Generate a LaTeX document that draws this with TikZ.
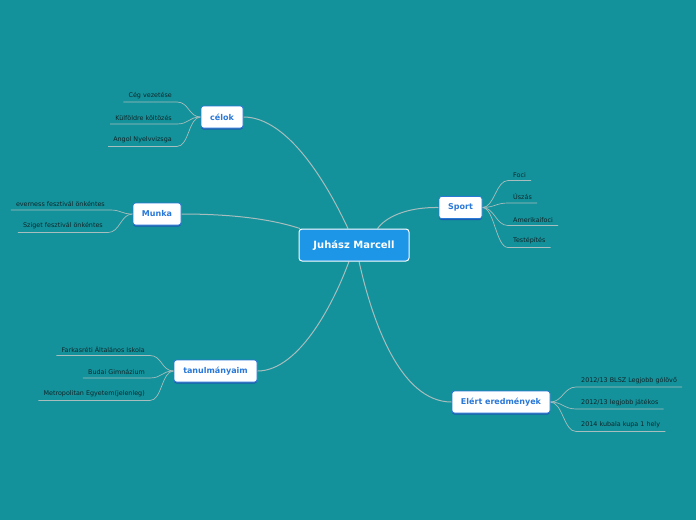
\documentclass[tikz,border=0pt]{standalone}
\usepackage{fontspec}
\setmainfont{DejaVu Sans}
\usetikzlibrary{shadows,backgrounds}
\definecolor{bg}{HTML}{13929B}
\definecolor{mainblue}{HTML}{1E96E8}
\definecolor{brblue}{HTML}{2A78D8}
\definecolor{shblue}{HTML}{1B5DB0}
\definecolor{conn}{HTML}{A8BDBD}
\definecolor{leaftext}{HTML}{10262A}
\begin{document}
\begin{tikzpicture}[x=1pt,y=-1pt,
 root/.style={draw=white, line width=1pt, fill=mainblue, rounded corners=3pt, text=white, font=\fontsize{10}{12}\selectfont\bfseries, minimum width=110pt, minimum height=32pt, inner sep=0pt},
 branch/.style={draw=brblue, line width=0.8pt, fill=white, rounded corners=2.5pt, text=brblue, font=\fontsize{8}{9.5}\selectfont\bfseries, minimum height=22pt, inner sep=0pt, general shadow={fill=shblue, shadow yshift=-1.5pt}},
 leaf/.style={text=leaftext, font=\fontsize{6.4}{7.5}\selectfont, inner xsep=5pt, inner ysep=3.2pt},
 link/.style={draw=conn, line width=1pt},
 sublink/.style={draw=conn, line width=0.7pt}]
\begin{scope}[on background layer]
\fill[bg] (0,0) rectangle (696,520);
\end{scope}
\useasboundingbox (0,0) rectangle (696,520);

% main nodes
\node[root] (root) at (354,245) {Juhász Marcell};
\node[branch, minimum width=42pt] (celok) at (222,117) {célok};
\node[branch, minimum width=48pt] (munka) at (157,214) {Munka};
\node[branch, minimum width=83pt] (tanul) at (215.5,371) {tanulmányaim};
\node[branch, minimum width=43pt] (sport) at (460.5,207.5) {Sport};
\node[branch, minimum width=98pt] (elert) at (501,402) {Elért eredmények};

% leaves: célok
\node[leaf, anchor=south east] (c1) at (177,102) {Cég vezetése};
\node[leaf, anchor=south east] (c2) at (177,124) {Külföldre költözés};
\node[leaf, anchor=south east] (c3) at (177,146.5) {Angol Nyelvvizsga};
% leaves: Munka
\node[leaf, anchor=south east] (m1) at (110,210) {everness fesztivál önkéntes};
\node[leaf, anchor=south east] (m2) at (108,232.5) {Sziget fesztivál önkéntes};
% leaves: tanulmányaim
\node[leaf, anchor=south east] (t1) at (150,355.5) {Farkasréti Általános Iskola};
\node[leaf, anchor=south east] (t2) at (150,378) {Budai Gimnázium};
\node[leaf, anchor=south east] (t3) at (150,400.5) {Metropolitan Egyetem(jelenleg)};
% leaves: Sport
\node[leaf, anchor=south west] (s1) at (508,180.5) {Foci};
\node[leaf, anchor=south west] (s2) at (508,203) {Úszás};
\node[leaf, anchor=south west] (s3) at (508,225.5) {Amerikaifoci};
\node[leaf, anchor=south west] (s4) at (508,247.5) {Testépítés};
% leaves: Elért eredmények
\node[leaf, anchor=south west] (e1) at (576,387) {2012/13 BLSZ Legjobb gólövő};
\node[leaf, anchor=south west] (e2) at (576,409) {2012/13 legjobb játékos};
\node[leaf, anchor=south west] (e3) at (576,431.5) {2014 kubala kupa 1 hely};

\begin{scope}[on background layer]
% main links
\draw[link] (celok.east) .. controls (290,117) and (330,190) .. (root.110);
\draw[link] (munka.east) .. controls (245,214) and (280,222) .. (root.163);
\draw[link] (tanul.east) .. controls (300,371) and (335,300) .. (root.253);
\draw[link] (sport.west) .. controls (405,207) and (385,218) .. (root.35);
\draw[link] (elert.west) .. controls (400,402) and (372,320) .. (root.287);
% sub links left
\foreach \l in {c1,c2,c3}
  \draw[sublink] (\l.south west) -- (\l.south east) .. controls +(12,0) and +(-12,0) .. (celok.west);
\foreach \l in {m1,m2}
  \draw[sublink] (\l.south west) -- (\l.south east) .. controls +(12,0) and +(-12,0) .. (munka.west);
\foreach \l in {t1,t2,t3}
  \draw[sublink] (\l.south west) -- (\l.south east) .. controls +(12,0) and +(-12,0) .. (tanul.west);
% sub links right
\foreach \l in {s1,s2,s3,s4}
  \draw[sublink] (sport.east) .. controls +(12,0) and +(-12,0) .. (\l.south west) -- (\l.south east);
\foreach \l in {e1,e2,e3}
  \draw[sublink] (elert.east) .. controls +(12,0) and +(-12,0) .. (\l.south west) -- (\l.south east);
\end{scope}
\end{tikzpicture}
\end{document}
